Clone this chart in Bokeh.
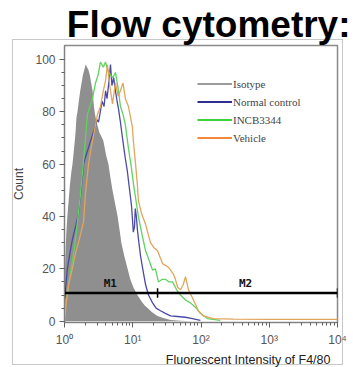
from bokeh.plotting import figure
from bokeh.models import (Range1d, Label, Legend, LegendItem, Title,
                          FixedTicker, LogTicker)
from bokeh.embed import file_html
from bokeh.resources import INLINE

# ---------------- data ----------------
title_text = "Flow cytometry:"
x_label = "Fluorescent Intensity of F4/80"
y_label = "Count"
series_names = ["Isotype", "Normal control", "INCB3344", "Vehicle"]

iso_x = [1.0, 1.03, 1.06, 1.1, 1.15, 1.2, 1.26, 1.31, 1.38, 1.45, 1.5, 1.55, 1.62,
         1.7, 1.78, 1.86, 1.95, 2.04, 2.14, 2.24, 2.35, 2.46, 2.58, 2.7, 2.8, 2.95,
         3.1, 3.25, 3.4, 3.55, 3.7, 3.9, 4.1, 4.4, 4.7, 5.05, 5.5, 6.0, 6.4, 6.8,
         7.5, 8.4, 9.2, 10.2, 11.7, 13.5, 15.0, 16.5, 19.0, 23.0, 28.0, 36.0, 50.0, 70.0]
iso_y = [12, 25, 33, 40, 46, 52, 57, 60, 66, 72, 78, 80, 84,
         88, 91, 94, 96, 98, 97, 96, 94, 91, 88, 82, 79, 76,
         74, 72, 71, 70, 69, 66, 63, 60, 55, 50, 45, 40, 35, 30,
         25, 20, 16, 13, 10, 7.5, 6, 5, 3.5, 2, 1.2, 0.5, 0.2, 0]

ctrl_x = [1.0, 1.05, 1.1, 1.2, 1.3, 1.45, 1.6, 1.75, 1.9, 2.05, 2.17, 2.35, 2.57,
          2.8, 3.0, 3.15, 3.35, 3.55, 3.8, 4.0, 4.2, 4.45, 4.72, 4.95, 5.25, 5.58,
          5.9, 6.19, 6.6, 7.07, 7.7, 8.36, 9.0, 9.6, 10.2, 10.6, 10.9, 11.3, 11.7,
          12.3, 13.0, 14.0, 15.4, 17.0, 19.5, 22.0, 25.5, 30.0, 35.8, 45.0, 59.0, 75.0, 98.0]
ctrl_y = [9, 14, 20, 26, 31, 36, 41, 50, 60, 63, 65, 68, 71,
          74, 77, 76, 80, 84, 82, 88, 85, 91, 98, 90, 93, 88,
          84, 81, 76, 70, 63, 57, 50, 44, 34, 36, 43, 40, 35,
          30, 25, 20, 14, 10, 7, 5, 4, 3, 2, 1.8, 1.5, 1, 0.3]

incb_x = [1.0, 1.07, 1.15, 1.25, 1.4, 1.55, 1.72, 1.88, 2.03, 2.17, 2.35, 2.57,
          2.85, 3.1, 3.37, 3.7, 3.99, 4.3, 4.72, 5.1, 5.58, 6.19, 6.6, 7.2, 7.8,
          8.65, 9.4, 10.3, 12.1, 13.7, 15.4, 17.5, 19.5, 21.5, 23.8, 27.0, 30.1,
          34.0, 38.2, 44.0, 50.0, 60.0, 70.0, 85.0, 98.0, 124.0, 192.0]
incb_y = [4, 8, 14, 20, 28, 38, 49, 60, 70, 79, 82, 85,
          91, 94, 99, 97, 99, 96, 94, 93, 95, 88, 82, 79, 75,
          66, 60, 52, 40, 33, 27, 23, 19.5, 20, 15, 16, 16,
          15, 15, 12, 10, 8, 7, 5, 3, 1, 0.3]

veh_x = [1.0, 1.07, 1.15, 1.3, 1.45, 1.6, 1.75, 1.9, 2.03, 2.25, 2.45, 2.66, 2.85,
         3.04, 3.37, 3.7, 4.0, 4.26, 4.6, 5.05, 5.58, 6.1, 6.6, 7.2, 7.8, 8.65,
         9.9, 10.2, 11.0, 11.7, 12.1, 13.5, 15.4, 18.2, 20.5, 23.0, 27.3, 33.4,
         39.4, 42.2, 45.4, 50.0, 55.0, 59.3, 65.6, 77.9, 91.5, 108.5, 152.0,
         300.0, 1000.0, 3000.0, 10000.0]
veh_y = [0, 8, 14, 20, 26, 30, 34, 38, 49, 60, 66, 71, 75,
         79, 82, 88, 92, 98, 90, 83, 91, 86, 88, 91, 85, 82,
         74, 69, 60, 52, 46, 41, 37, 30, 28, 27, 22, 20.6,
         18, 16, 13, 12, 14, 17, 12, 8, 4, 2, 1,
         0.8, 0.7, 0.7, 0.7]

gate_level = 10.8
gate_edges = [1.0, 23.1, 10000.0]
gate_names = ["M1", "M2"]
gate_label_x = [4.7, 450.0]

y_ticks = [0, 20, 40, 60, 80, 100]
x_ticks = [1, 10, 100, 1000, 10000]
x_tick_labels = ["10\u2070", "10\u00b9", "10\u00b2", "10\u00b3", "10\u2074"]

# ---------------- figure ----------------
W, H = 353, 367
p = figure(width=W, height=H, x_axis_type="log",
           x_range=Range1d(1, 10000), y_range=Range1d(-0.5, 105.3),
           output_backend="svg", toolbar_location=None,
           min_border_left=64, min_border_right=16,
           min_border_top=45, min_border_bottom=45)
p.background_fill_color = "white"
p.border_fill_alpha = 0
p.grid.visible = False
p.outline_line_color = "#8a8a8a"
p.outline_line_width = 1.5

# thin outer box (drawn as CSS background lines behind the transparent border)
box = "linear-gradient(#c8c8c8, #c8c8c8)"
p.styles = {
    "background-color": "white",
    "background-image": ", ".join([box] * 4),
    "background-position": "12px 39px, 12px 364px, 12px 39px, 342px 39px",
    "background-size": "331px 1px, 331px 1px, 1px 326px, 1px 326px",
    "background-repeat": "no-repeat",
}

# isotype filled histogram
p.varea(x=iso_x, y1=[0] * len(iso_x), y2=iso_y, fill_color="#8f8f8f")
p.line(ctrl_x, ctrl_y, line_color="#4a4aa6", line_width=1.3)
p.line(incb_x, incb_y, line_color="#5fd35f", line_width=1.3)
p.line(veh_x, veh_y, line_color="#e2a55c", line_width=1.3)

# gates
p.line(x=[gate_edges[0], gate_edges[-1]], y=[gate_level, gate_level],
       line_color="black", line_width=2.5)
p.segment(x0=gate_edges, y0=[gate_level - 1.8] * 3, x1=gate_edges,
          y1=[gate_level + 1.8] * 3, line_color="black", line_width=1.5)
for nm, gx in zip(gate_names, gate_label_x):
    p.add_layout(Label(x=gx, y=gate_level + 1.3, text=nm, text_align="center",
                       text_baseline="bottom", text_font="DejaVu Sans Mono",
                       text_font_style="bold", text_font_size="11px",
                       text_color="#111111"))

# legend with separate swatch renderers (no visible data)
leg_colors = ["#9a9a9a", "#2e2e8e", "#3fd03f", "#f4883c"]
items = []
for nm, c in zip(series_names, leg_colors):
    r = p.line(x=[float("nan")], y=[float("nan")], line_color=c, line_width=2)
    items.append(LegendItem(label=nm, renderers=[r]))
legend = Legend(items=items, location=(133, 177), glyph_width=35, glyph_height=15,
                label_height=15, spacing=3, padding=0, margin=0, label_standoff=1,
                label_text_font="Liberation Serif", label_text_font_size="11px",
                label_text_color="#444444", border_line_alpha=0,
                background_fill_alpha=0)
p.add_layout(legend)

# axes
p.yaxis.ticker = FixedTicker(ticks=y_ticks, minor_ticks=list(range(0, 105, 5)))
p.xaxis.ticker = LogTicker(num_minor_ticks=10)
p.xaxis.major_label_overrides = {t: s for t, s in zip(x_ticks, x_tick_labels)}
for ax in (p.xaxis[0], p.yaxis[0]):
    ax.axis_line_color = "#808080"
    ax.major_tick_line_color = "#606060"
    ax.minor_tick_line_color = "#606060"
    ax.major_tick_out = 5
    ax.major_tick_in = 0
    ax.minor_tick_out = 3
    ax.minor_tick_in = 0
    ax.major_label_text_font = "Liberation Sans"
    ax.major_label_text_font_size = "12px"
    ax.major_label_text_color = "#555555"
p.yaxis.major_label_standoff = 4
p.xaxis.major_label_standoff = 5
p.yaxis.axis_label = y_label
p.yaxis.axis_label_text_font = "Liberation Sans"
p.yaxis.axis_label_text_font_style = "normal"
p.yaxis.axis_label_text_font_size = "12px"
p.yaxis.axis_label_text_color = "#444444"
p.yaxis.axis_label_standoff = 6

# x label below the axis, toward the right like the reference
p.add_layout(Title(text=x_label, align="right", offset=7, standoff=2,
                   text_font="Liberation Sans", text_font_style="normal",
                   text_font_size="12.5px", text_color="#222222"), "below")
# big title above, right aligned
p.title = Title(text=title_text, align="right", offset=-13, standoff=1,
                text_font="Liberation Sans", text_font_style="bold",
                text_font_size="37px", text_color="#000000")

open("out.html", "w").write(file_html(p, INLINE))
